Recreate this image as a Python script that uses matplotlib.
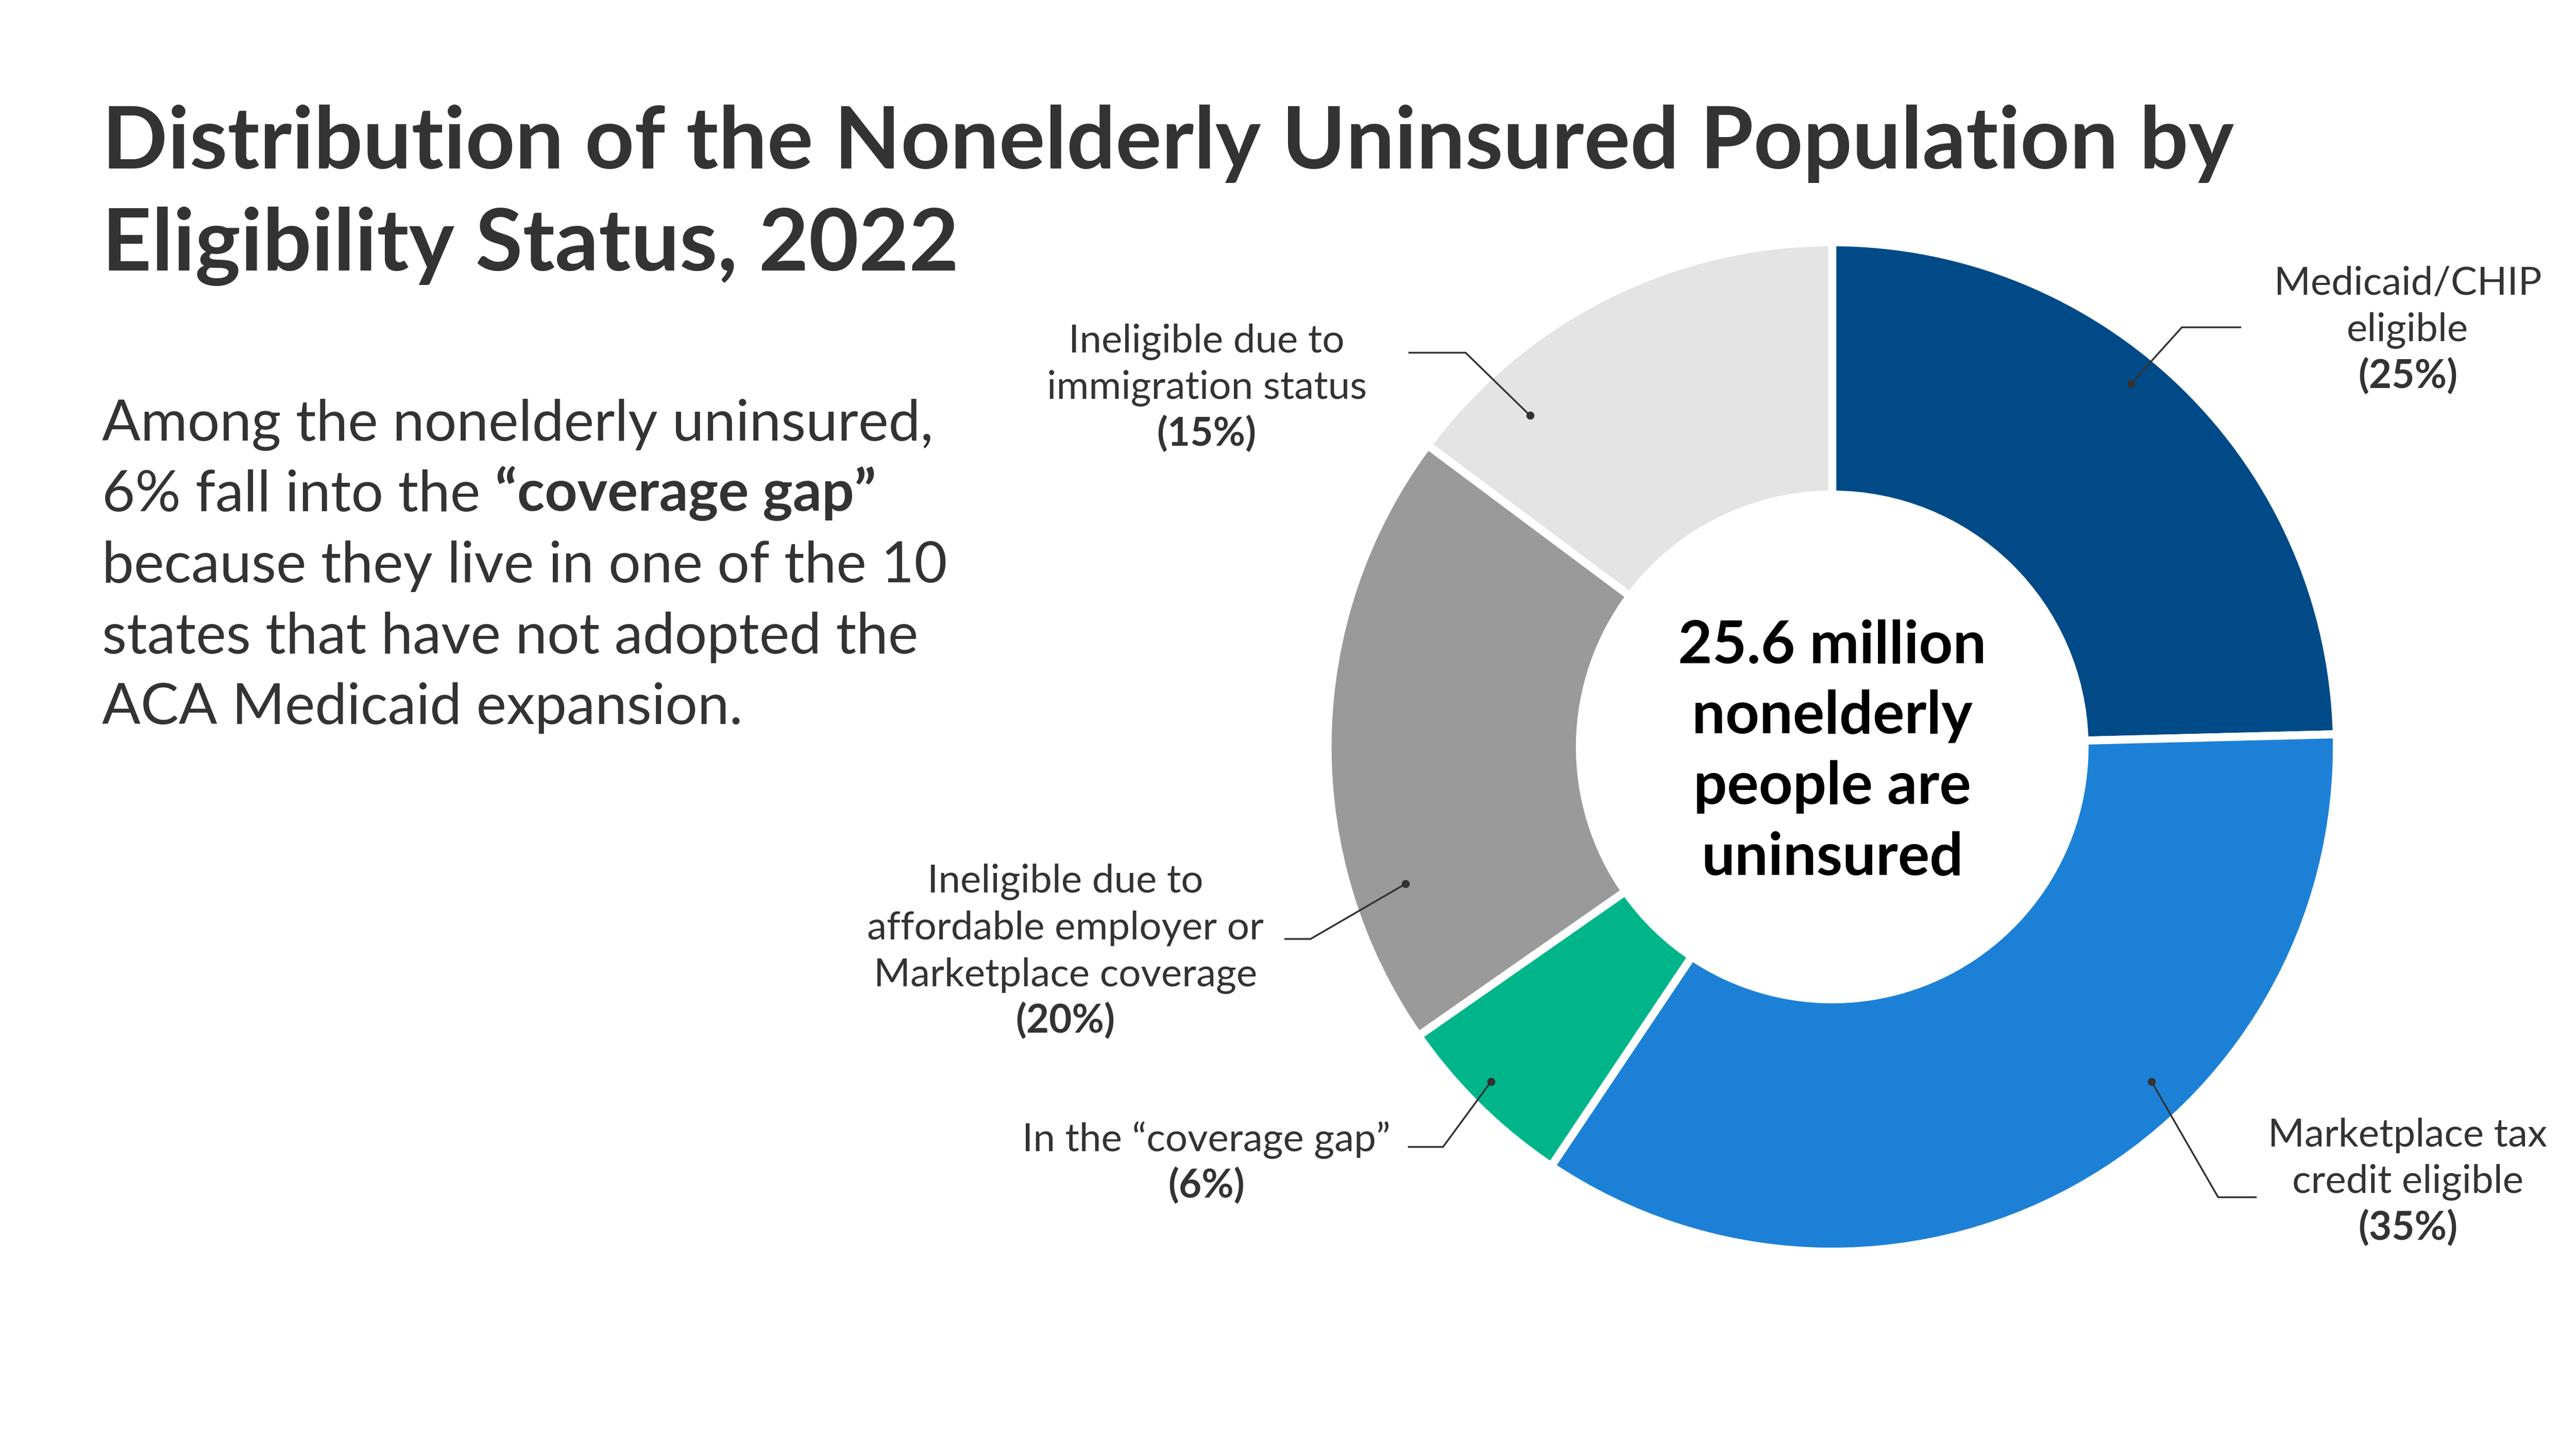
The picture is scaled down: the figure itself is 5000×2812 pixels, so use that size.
import matplotlib.pyplot as plt

# data (share of nonelderly uninsured, %)
categories = ["Medicaid/CHIP eligible",
              "Marketplace tax credit eligible",
              "In the \u201ccoverage gap\u201d",
              "Ineligible due to affordable employer or Marketplace coverage",
              "Ineligible due to immigration status"]
shares = [24.6, 34.8, 5.9, 19.9, 14.8]
label_lines = [["Medicaid/CHIP", "eligible"],
               ["Marketplace tax", "credit eligible"],
               ["In the \u201ccoverage gap\u201d"],
               ["Ineligible due to", "affordable employer or", "Marketplace coverage"],
               ["Ineligible due to", "immigration status"]]
colors = ["#004a87", "#1c81d6", "#00b58a", "#9a9a9a", "#e4e4e4"]

title_lines = ["Distribution of the Nonelderly Uninsured Population by",
               "Eligibility Status, 2022"]
center_lines = ["25.6 million", "nonelderly", "people are", "uninsured"]

plt.rcParams["font.family"] = ["Lato", "DejaVu Sans"]
TXT = "#333333"

# canvas in reference pixels (y down), 16:9
W = 1562
H = W * 9 / 16
fig = plt.figure(figsize=(16, 9), dpi=312.5)
ax = fig.add_axes([0, 0, 1, 1])

cx, cy, R = 1111, 453, 306
# y axis is flipped, so startangle -90 is 12 o'clock and ccw draws clockwise
ax.pie(shares, colors=colors, center=(cx, cy), radius=R,
       startangle=-90, counterclock=True,
       wedgeprops=dict(width=R * 0.5, edgecolor="white", linewidth=3.6))
ax.set_xlim(0, W)
ax.set_ylim(H, 0)
ax.set_aspect("auto")
ax.axis("off")

# title
for i, s in enumerate(title_lines):
    ax.text(62, 102 + 62 * i, s, fontsize=38.6, fontweight="bold",
            color=TXT, va="baseline", ha="left")

# intro paragraph
BODY = 25.5
body_y = [267, 310, 353, 396, 439]
ax.text(62, body_y[0], "Among the nonelderly uninsured,", fontsize=BODY,
        color=TXT, va="baseline")
t = ax.text(62, body_y[1], "6% fall into the", fontsize=BODY,
            color=TXT, va="baseline")
ax.annotate("\u201ccoverage gap\u201d", xy=(1, 0), xycoords=t,
            xytext=(6.5, 0), textcoords="offset points",
            fontsize=BODY, fontweight="bold", color=TXT,
            va="bottom", ha="left")
ax.text(62, body_y[2], "because they live in one of the 10", fontsize=BODY,
        color=TXT, va="baseline")
ax.text(62, body_y[3], "states that have not adopted the", fontsize=BODY,
        color=TXT, va="baseline")
ax.text(62, body_y[4], "ACA Medicaid expansion.", fontsize=BODY,
        color=TXT, va="baseline")

# center text
for i, s in enumerate(center_lines):
    ax.text(cx, 402 + 42.7 * i, s, fontsize=26.5, fontweight="bold",
            color="black", ha="center", va="baseline")

# slice labels: text centre x, first baseline, leader (start, elbow, dot)
label_x = [1460, 1460, 731.5, 646, 731.7]
label_y = [178.6, 695, 697.8, 541.2, 213.6]
leaders = [[(1359, 198.6), (1323, 198.6), (1292, 233)],
           [(1368.4, 726), (1345, 726), (1304.7, 656)],
           [(853.7, 695.5), (875, 695.5), (904, 656)],
           [(778.8, 569.4), (794.7, 569.4), (852.3, 536)],
           [(854, 214), (888.7, 214), (927.7, 252)]]
line_gap = 28.3
LBL = 17.6

for lines, share, x, y0, pts in zip(label_lines, shares, label_x, label_y, leaders):
    for j, s in enumerate(lines):
        ax.text(x, y0 + j * line_gap, s, fontsize=LBL, color=TXT,
                ha="center", va="baseline")
    ax.text(x, y0 + len(lines) * line_gap, "(%d%%)" % round(share),
            fontsize=LBL, fontweight="bold", color=TXT,
            ha="center", va="baseline")
    xs = [p[0] for p in pts]
    ys = [p[1] for p in pts]
    ax.plot(xs, ys, color=TXT, lw=0.8, solid_capstyle="butt")
    ax.plot(xs[-1], ys[-1], "o", color=TXT, ms=2.6)

fig.savefig("out.png", dpi=312.5, facecolor="white")
